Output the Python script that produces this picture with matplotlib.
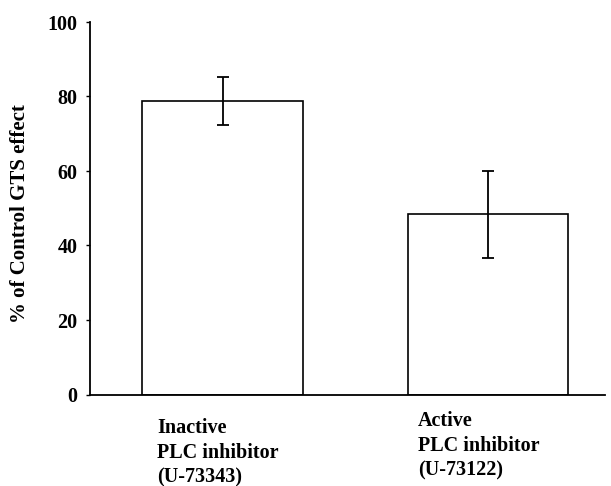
import matplotlib
matplotlib.use("Agg")
from matplotlib import pyplot as plt
from matplotlib import transforms


# values (% of control GTS effect)
groups = ["Inactive\nPLC inhibitor\n(U-73343)",
          "Active\nPLC inhibitor\n(U-73122)"]
means = [78.8, 48.5]
err_low = [6.5, 11.9]
err_high = [6.4, 11.6]
yticks = [0, 20, 40, 60, 80, 100]

plt.rcParams['font.family'] = ['Liberation Serif', 'DejaVu Serif']
plt.rcParams['font.weight'] = 'bold'
fs = 14.5

fig = plt.figure(figsize=(6.11, 4.86), dpi=100)
ax = fig.add_axes([90 / 611, 1 - 394.5 / 486, 515 / 611, 372.5 / 486])

x = list(range(len(groups)))
ax.bar(x, means, width=0.604, color='white', edgecolor='black',
       linewidth=1.2, zorder=2)
ax.errorbar(x, means, yerr=[err_low, err_high], fmt='none', ecolor='black',
            elinewidth=1.3, capsize=4.5, capthick=1.3, zorder=3)

ax.set_ylim(0, 100)
ax.set_xlim(-0.5, 1.443)
ax.set_yticks(yticks)
ax.set_yticklabels([str(t) for t in yticks], fontsize=fs, fontweight='bold')
ax.tick_params(axis='y', direction='out', length=3, width=1, pad=6)
ax.tick_params(axis='x', length=0, pad=17)

ax.set_xticks(x)
ax.set_xticklabels(groups, fontsize=fs, fontweight='bold', ha='left',
                   va='top', linespacing=1.3)
# shift the category labels so they start left of the bar centres
shifts = [(-65.5, 0), (-69.5, 7)]
for lab, (dx, dy) in zip(ax.get_xticklabels(), shifts):
    lab.set_transform(lab.get_transform() +
                      transforms.ScaledTranslation(dx / 100, dy / 100,
                                                   fig.dpi_scale_trans))

ax.set_ylabel("% of Control GTS effect", fontsize=15, fontweight='bold')
ax.yaxis.set_label_coords(-0.1165, 0.487)

for side in ('top', 'right'):
    ax.spines[side].set_visible(False)
for side in ('left', 'bottom'):
    ax.spines[side].set_linewidth(1.3)

fig.savefig("out.png", dpi=100)
